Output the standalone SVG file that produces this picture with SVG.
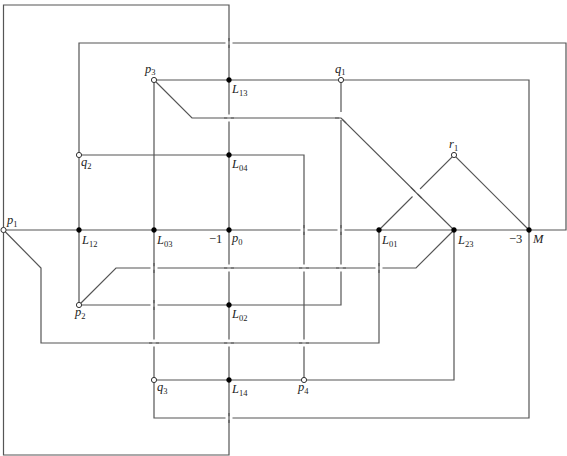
<svg xmlns="http://www.w3.org/2000/svg" width="567" height="456" viewBox="0 0 567 456">
<style>
.ln{fill:none;stroke:#555;stroke-width:1.2;stroke-linejoin:miter}
.gp{fill:none;stroke:#fff;stroke-width:3.5}
.f{fill:#000;stroke:#000;stroke-width:0.6}
.o{fill:#fff;stroke:#333;stroke-width:1}
text{font-family:"Liberation Serif",serif;font-size:12.5px;fill:#222}
.i{font-style:italic}
.s{font-size:8.5px;font-style:normal}
</style>
<rect width="567" height="456" fill="#fff"/>
<g id="connectors">
<path class="ln" d="M3.5,5 H229 V455 H3.5 Z"/>
<path class="ln" d="M79,305 V43 H566 V230 H3.5"/>
<path class="ln" d="M154,80 H529 V418 H154 Z"/>
<path class="ln" d="M154,80 L192,118 H341 L454,230 V380 H154"/>
<path class="ln" d="M79,155 H304 V380"/>
<path class="ln" d="M341,80 V305 H79"/>
<path class="ln" d="M79,305 L116,268 H416 L454,230"/>
<path class="ln" d="M3.5,230 L41,268 V343 H379 V230"/>
<path class="ln" d="M379,230 L454,155 L529,230"/>
</g>
<g id="crossings">
<path class="gp" d="M225.5,43 H232.5 M300.5,230 H307.5 M337.5,230 H344.5 M150.5,268 H157.5 M375.5,268 H382.5 M150.5,305 H157.5 M225.5,418 H232.5"/>
<path class="ln" d="M229,38 V48 M304,225 V235 M341,225 V235 M154,263 V273 M379,263 V273 M154,300 V310 M229,413 V423"/>
<path class="gp" d="M229,114.5 V121.5 M341,112 V120 M229,264.5 V271.5 M304,264.5 V271.5 M341,264.5 V271.5 M154,339.5 V346.5 M229,339.5 V346.5 M304,339.5 V346.5"/>
<path class="ln" d="M224,118 H234 M335,118 H341 L346,123 M224,268 H234 M299,268 H309 M336,268 H346 M149,343 H159 M224,343 H234 M299,343 H309"/>
<path class="gp" d="M412.5,196.5 L420.1,188.9"/>
<path class="ln" d="M410.8,187.4 L421.8,198.3"/>
</g>
<g id="p3"><circle class="o" cx="154" cy="80" r="2.6"/><text x="145" y="72.5"><tspan class="i">p</tspan><tspan class="s" dy="2.5">3</tspan></text></g>
<g id="L13"><circle class="f" cx="229" cy="80" r="2.4"/><text x="232" y="93"><tspan class="i">L</tspan><tspan class="s" dy="2.5">13</tspan></text></g>
<g id="q1"><circle class="o" cx="341" cy="80" r="2.6"/><text x="335" y="72.5"><tspan class="i">q</tspan><tspan class="s" dy="2.5">1</tspan></text></g>
<g id="q2"><circle class="o" cx="79" cy="155" r="2.6"/><text x="81" y="166"><tspan class="i">q</tspan><tspan class="s" dy="2.5">2</tspan></text></g>
<g id="L04"><circle class="f" cx="229" cy="155" r="2.4"/><text x="232" y="168"><tspan class="i">L</tspan><tspan class="s" dy="2.5">04</tspan></text></g>
<g id="r1"><circle class="o" cx="454" cy="155" r="2.6"/><text x="449" y="148"><tspan class="i">r</tspan><tspan class="s" dy="2.5">1</tspan></text></g>
<g id="p1"><circle class="o" cx="3.5" cy="230" r="2.6"/><text x="7" y="224"><tspan class="i">p</tspan><tspan class="s" dy="2.5">1</tspan></text></g>
<g id="L12"><circle class="f" cx="79" cy="230" r="2.4"/><text x="82" y="244"><tspan class="i">L</tspan><tspan class="s" dy="2.5">12</tspan></text></g>
<g id="L03"><circle class="f" cx="154" cy="230" r="2.4"/><text x="157" y="244"><tspan class="i">L</tspan><tspan class="s" dy="2.5">03</tspan></text></g>
<g id="p0"><circle class="f" cx="229" cy="230" r="2.4"/><text x="209" y="243">−1</text><text x="232" y="242"><tspan class="i">p</tspan><tspan class="s" dy="2.5">0</tspan></text></g>
<g id="L01"><circle class="f" cx="379" cy="230" r="2.4"/><text x="382" y="244"><tspan class="i">L</tspan><tspan class="s" dy="2.5">01</tspan></text></g>
<g id="L23"><circle class="f" cx="454" cy="230" r="2.4"/><text x="458" y="244"><tspan class="i">L</tspan><tspan class="s" dy="2.5">23</tspan></text></g>
<g id="M"><circle class="f" cx="529" cy="230" r="2.4"/><text x="509" y="243">−3</text><text x="533" y="243" class="i">M</text></g>
<g id="p2"><circle class="o" cx="79" cy="305" r="2.6"/><text x="75" y="316"><tspan class="i">p</tspan><tspan class="s" dy="2.5">2</tspan></text></g>
<g id="L02"><circle class="f" cx="229" cy="305" r="2.4"/><text x="232" y="318"><tspan class="i">L</tspan><tspan class="s" dy="2.5">02</tspan></text></g>
<g id="q3"><circle class="o" cx="154" cy="380" r="2.6"/><text x="157" y="391"><tspan class="i">q</tspan><tspan class="s" dy="2.5">3</tspan></text></g>
<g id="L14"><circle class="f" cx="229" cy="380" r="2.4"/><text x="232" y="393"><tspan class="i">L</tspan><tspan class="s" dy="2.5">14</tspan></text></g>
<g id="p4"><circle class="o" cx="304" cy="380" r="2.6"/><text x="298" y="391"><tspan class="i">p</tspan><tspan class="s" dy="2.5">4</tspan></text></g>
</svg>
